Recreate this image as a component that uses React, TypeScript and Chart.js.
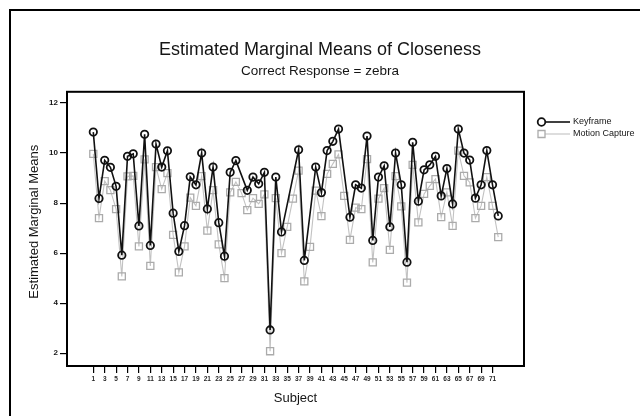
import React, { useEffect, useRef } from 'react';
import { Chart, registerables } from 'chart.js';

Chart.register(...registerables);

// Subjects (categories on the x axis)
const subjects = [
  1, 2, 3, 4, 5, 6, 7, 8, 9, 10, 11, 12, 13, 14, 15, 16, 17, 18, 19, 20, 21, 22, 23, 24,
  25, 26, 27, 28, 29, 30, 31, 32, 33, 34, 35, 36, 37, 38, 39, 40, 41, 42, 43, 44, 45, 46, 47, 48,
  49, 50, 51, 52, 53, 54, 55, 56, 57, 58, 59, 60, 61, 62, 63, 64, 65, 66, 67, 68, 69, 70, 71, 72,
];

// Keyframe estimated marginal means (null = no estimate)
const keyframe = [
  10.84, 8.19, 9.71, 9.43, 8.67, 5.92, 9.87, 9.97, 7.09, 10.75, 6.31, 10.36,
  9.44, 10.09, 7.6, 6.07, 7.1, 9.05, 8.73, 10.0, 7.77, 9.44, 7.22, 5.88,
  9.23, 9.7, null, 8.51, 9.04, 8.77, 9.23, 2.93, 9.04, 6.85, null, null,
  10.13, 5.71, null, 9.44, 8.42, 10.1, 10.47, 10.96, null, 7.44, 8.73, 8.6,
  10.68, 6.51, 9.04, 9.49, 7.05, 10.0, 8.73, 5.64, 10.43, 8.08, 9.33, 9.53,
  9.87, 8.29, 9.38, 7.97, 10.96, 10.0, 9.72, 8.2, 8.73, 10.1, 8.73, 7.49,
];

// Motion Capture estimated marginal means
const motionCapture = [
  9.97, 7.4, 8.88, 8.52, 7.76, 5.07, 9.07, 9.09, 6.27, 9.75, 5.49, 9.44,
  8.56, 9.2, 6.73, 5.23, 6.27, 8.22, 7.89, 9.08, 6.9, 8.52, 6.35, 5.0,
  8.43, 8.85, 8.4, 7.72, 8.2, 7.97, 8.35, 2.08, 8.2, 6.0, 7.05, 8.18,
  9.3, 4.87, 6.25, 8.5, 7.48, 9.17, 9.57, 9.95, 8.29, 6.53, 7.82, 7.76,
  9.76, 5.63, 8.18, 8.6, 6.13, 9.08, 7.87, 4.82, 9.53, 7.23, 8.37, 8.69,
  8.96, 7.44, 8.43, 7.09, 10.1, 9.09, 8.83, 7.4, 7.89, 9.04, 7.89, 6.64,
];

// Tick labels
const xTickLabels = [
  1, 3, 5, 7, 9, 11, 13, 15, 17, 19, 21, 23, 25, 27, 29, 31, 33, 35,
  37, 39, 41, 43, 45, 47, 49, 51, 53, 55, 57, 59, 61, 63, 65, 67, 69, 71,
];
const yTickLabels = [2, 4, 6, 8, 10, 12];

const FONT = '"Liberation Sans", Arial, Helvetica, sans-serif';
const TEXT = '#151515';

const framePlugin = {
  id: 'plotFrame',
  afterDatasetsDraw(chart: any) {
    const { ctx, chartArea: a } = chart;
    ctx.save();
    ctx.strokeStyle = '#000';
    ctx.lineWidth = 2;
    ctx.strokeRect(a.left, a.top, a.right - a.left, a.bottom - a.top);
    ctx.restore();
  },
};

const sideLegendPlugin = {
  id: 'sideLegend',
  afterDraw(chart: any) {
    const { ctx, chartArea: a } = chart;
    const x0 = a.right + 17.5;
    const x1 = a.right + 46;
    const tx = a.right + 49;
    ctx.save();
    chart.data.datasets.forEach((ds: any, i: number) => {
      const y = 122 + i * 12;
      ctx.beginPath();
      ctx.strokeStyle = ds.borderColor;
      ctx.lineWidth = ds.borderWidth;
      ctx.moveTo(x0, y);
      ctx.lineTo(x1, y);
      ctx.stroke();
      ctx.beginPath();
      ctx.strokeStyle = ds.pointBorderColor;
      ctx.lineWidth = ds.pointBorderWidth;
      ctx.fillStyle = '#fff';
      if (ds.pointStyle === 'circle') {
        ctx.arc(x0, y, 3.8, 0, Math.PI * 2);
      } else {
        ctx.rect(x0 - 3.5, y - 3.5, 7, 7);
      }
      ctx.fill();
      ctx.stroke();
      ctx.fillStyle = TEXT;
      ctx.font = `9px ${FONT}`;
      ctx.textAlign = 'left';
      ctx.textBaseline = 'middle';
      ctx.fillText(ds.label, tx, y);
    });
    ctx.restore();
  },
};

export default function App() {
  const canvasRef = useRef<HTMLCanvasElement | null>(null);

  useEffect(() => {
    if (!canvasRef.current) return;
    const chart = new Chart(canvasRef.current, {
      type: 'line',
      data: {
        datasets: [
          {
            label: 'Keyframe',
            data: subjects.map((s, i) => ({ x: s, y: keyframe[i] })),
            borderColor: '#111',
            borderWidth: 1.6,
            pointStyle: 'circle',
            pointRadius: 3.7,
            pointBorderColor: '#111',
            pointBorderWidth: 1.8,
            pointBackgroundColor: 'rgba(255,255,255,0)',
            tension: 0,
            spanGaps: true,
            yAxisID: 'y',
          },
          {
            label: 'Motion Capture',
            data: subjects.map((s, i) => ({ x: s, y: motionCapture[i] })),
            borderColor: '#c2c2c2',
            borderWidth: 1.1,
            pointStyle: 'rect',
            pointRadius: 5,
            pointBorderColor: '#ababab',
            pointBorderWidth: 1.3,
            pointBackgroundColor: 'rgba(255,255,255,0)',
            tension: 0,
            spanGaps: true,
            yAxisID: 'y',
          },
        ],
      } as any,
      options: {
        animation: false,
        responsive: false,
        devicePixelRatio: 1,
        events: [],
        layout: { padding: 0 },
        plugins: {
          legend: { display: false },
          tooltip: { enabled: false },
          title: {
            display: true,
            text: 'Estimated Marginal Means of Closeness',
            color: TEXT,
            font: { family: FONT, size: 18, weight: 'normal' },
            padding: { top: 39, bottom: 0 },
          },
          subtitle: {
            display: true,
            text: 'Correct Response = zebra',
            color: TEXT,
            font: { family: FONT, size: 13.5, weight: 'normal' },
            padding: { top: 3, bottom: 12 },
          },
        },
        scales: {
          x: {
            type: 'linear',
            min: -3.61,
            max: 76.52,
            afterBuildTicks: (axis: any) => {
              axis.ticks = xTickLabels.map((v) => ({ value: v }));
            },
            afterFit: (axis: any) => {
              axis.height = 50;
            },
            ticks: {
              autoSkip: false,
              maxRotation: 0,
              minRotation: 0,
              padding: 2,
              color: '#2a2a2a',
              font: { family: FONT, size: 6.5, weight: 'bold' },
              callback: (v: any) => String(v),
            },
            grid: {
              drawOnChartArea: false,
              drawTicks: true,
              tickLength: 7,
              color: '#000',
              lineWidth: 1.2,
            },
            border: { display: false },
            title: {
              display: true,
              text: 'Subject',
              color: TEXT,
              font: { family: FONT, size: 13, weight: 'normal' },
              padding: { top: 0, bottom: 10 },
            },
          },
          y: {
            type: 'linear',
            position: 'left',
            min: 1.49,
            max: 12.45,
            afterBuildTicks: (axis: any) => {
              axis.ticks = yTickLabels.map((v) => ({ value: v }));
            },
            afterFit: (axis: any) => {
              axis.width = 67;
            },
            ticks: {
              padding: 2,
              color: TEXT,
              font: { family: FONT, size: 8, weight: 'bold' },
              callback: (v: any) => String(v),
            },
            grid: {
              drawOnChartArea: false,
              drawTicks: true,
              tickLength: 7,
              color: '#000',
              lineWidth: 1.2,
            },
            border: { display: false },
            title: {
              display: true,
              text: '    Estimated Marginal Means',
              color: TEXT,
              font: { family: FONT, size: 13, weight: 'normal' },
              padding: { top: 27, bottom: 0 },
            },
          },
          legendSpace: {
            type: 'linear',
            position: 'right',
            display: true,
            afterFit: (axis: any) => {
              axis.width = 116;
            },
            ticks: { display: false },
            grid: { display: false, drawTicks: false },
            border: { display: false },
          },
        },
      } as any,
      plugins: [framePlugin, sideLegendPlugin],
    });
    return () => chart.destroy();
  }, []);

  return (
    <div
      style={{
        position: 'fixed',
        left: 0,
        top: 0,
        width: 640,
        height: 416,
        background: '#fff',
        overflow: 'hidden',
      }}
    >
      <div
        style={{
          position: 'absolute',
          left: 9,
          top: 9,
          width: 640,
          height: 416,
          borderTop: '2px solid #000',
          borderLeft: '2px solid #000',
        }}
      />
      <canvas
        ref={canvasRef}
        width={640}
        height={416}
        style={{ position: 'absolute', left: 0, top: 0, display: 'block' }}
      />
    </div>
  );
}
